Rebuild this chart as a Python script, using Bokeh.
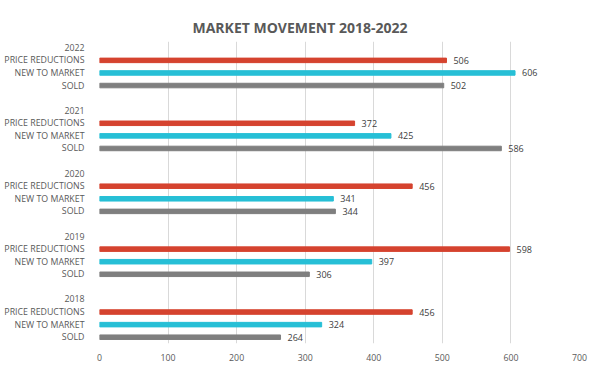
from bokeh.plotting import figure
from bokeh.models import Range1d, FixedTicker, ColumnDataSource, Title
from bokeh.core.properties import value
from bokeh.embed import file_html
from bokeh.resources import INLINE

years = ["2022", "2021", "2020", "2019", "2018"]
measures = ["PRICE REDUCTIONS", "NEW TO MARKET", "SOLD"]
price_reductions = [506, 372, 456, 598, 456]
new_to_market = [606, 425, 341, 397, 324]
sold = [502, 586, 344, 306, 264]
x_ticks = [0, 100, 200, 300, 400, 500, 600, 700]

colors = ["#D5432F", "#27BFD6", "#7F7F7F"]
series = [price_reductions, new_to_market, sold]

FONT = "Open Sans"
SLOTS = 5  # year label, 3 measures, gap
W, H = 600, 371
BL, BR, BT, BB = 99, 21, 41, 28

p = figure(width=W, height=H, output_backend="svg", toolbar_location=None,
           x_range=Range1d(0, 700), y_range=Range1d(len(years) * SLOTS - 1, 0),
           min_border_left=BL, min_border_right=BR, min_border_top=BT,
           min_border_bottom=BB)

ys, xs, cs, labels = [], [], [], []
tick_pos, tick_lab = [], []
for g, yr in enumerate(years):
    base = g * SLOTS
    tick_pos.append(base + 0.5)
    tick_lab.append(yr)
    for r, m in enumerate(measures):
        y = base + r + 1.5
        tick_pos.append(y)
        tick_lab.append(m)
        ys.append(y)
        xs.append(series[r][g])
        cs.append(colors[r])
        labels.append(str(series[r][g]))

src = ColumnDataSource(dict(y=ys, x=xs, c=cs, t=labels))
p.hbar(y="y", right="x", left=0, height=0.36, color="c", source=src)
p.text(x="x", y="y", text="t", source=src, x_offset=7, text_baseline="middle",
       text_align="left", text_font=value(FONT), text_font_size="9px",
       text_color="#404040")

p.yaxis.ticker = FixedTicker(ticks=tick_pos)
p.yaxis.major_label_overrides = {pos: lab for pos, lab in zip(tick_pos, tick_lab)}
p.xaxis.ticker = FixedTicker(ticks=x_ticks)

for ax in (p.xaxis, p.yaxis):
    ax.axis_line_color = None
    ax.major_tick_line_color = None
    ax.minor_tick_line_color = None
    ax.major_label_text_font = FONT
    ax.major_label_text_font_size = "8.8px"
    ax.major_label_text_color = "#595959"
p.yaxis.major_label_standoff = 9
p.xaxis.major_label_standoff = 4

p.ygrid.grid_line_color = None
p.xgrid.grid_line_color = "#D9D9D9"
p.xgrid.ticker = FixedTicker(ticks=x_ticks)
p.outline_line_color = None

p.title = Title(text="MARKET MOVEMENT 2018-2022", align="left", offset=93,
                vertical_align="top", text_font=FONT, text_font_size="14px",
                text_font_style="bold", text_color="#595959", standoff=6)

open("out.html", "w").write(file_html(p, INLINE))
